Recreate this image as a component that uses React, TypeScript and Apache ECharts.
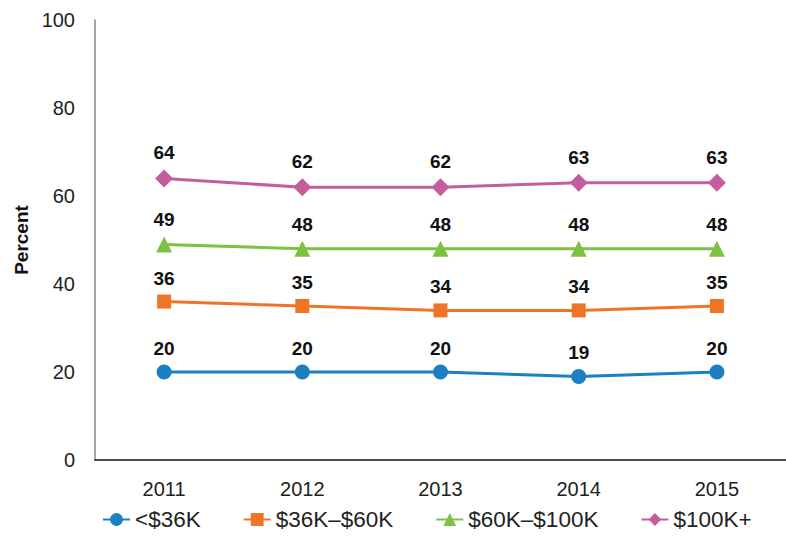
import React, { useEffect, useRef } from "react";
import * as echarts from "echarts";

const years = ["2011", "2012", "2013", "2014", "2015"];
const under36 = [20, 20, 20, 19, 20];
const from36to60 = [36, 35, 34, 34, 35];
const from60to100 = [49, 48, 48, 48, 48];
const over100 = [64, 62, 62, 63, 63];
const seriesNames = ["<$36K", "$36K\u2013$60K", "$60K\u2013$100K", "$100K+"];
const colors = ["#1a80c2", "#f07426", "#7cc142", "#c55c9c"];

const FONT = "'Liberation Sans', Arial, sans-serif";

export default function App() {
  const ref = useRef<HTMLDivElement>(null);
  useEffect(() => {
    if (!ref.current) return;
    const chart = echarts.init(ref.current, undefined, { renderer: "svg" });
    const mk = (name: string, data: number[], color: string, symbol: string, size: number) => ({
      name,
      type: "line",
      data,
      symbol,
      symbolSize: size,
      color,
      lineStyle: { width: 3, color },
      itemStyle: { color },
      label: {
        show: true,
        position: "top",
        distance: 7,
        color: "#111",
        fontFamily: FONT,
        fontWeight: "bold",
        fontSize: 19,
      },
    });
    chart.setOption({
      animation: false,
      textStyle: { fontFamily: FONT },
      grid: { left: 95, right: 0, top: 20, bottom: 78, containLabel: false },
      legend: {
        bottom: 2,
        left: 97,
        itemWidth: 27,
        itemHeight: 16,
        itemGap: 42,
        textStyle: { fontSize: 22.5, color: "#222", fontFamily: FONT },
        data: seriesNames,
      },
      xAxis: {
        type: "category",
        data: years,
        boundaryGap: true,
        axisLine: { show: true, lineStyle: { color: "#111", width: 1.5 } },
        axisTick: { show: false },
        axisLabel: { fontSize: 20, color: "#222", margin: 19, fontFamily: FONT },
      },
      yAxis: {
        type: "value",
        min: 0,
        max: 100,
        interval: 20,
        name: "Percent",
        nameLocation: "middle",
        nameGap: 64,
        nameTextStyle: { fontSize: 19, fontWeight: "bold", color: "#111", fontFamily: FONT },
        axisLine: { show: true, lineStyle: { color: "#888", width: 1.5 } },
        axisTick: { show: false },
        splitLine: { show: false },
        axisLabel: { fontSize: 20, color: "#222", margin: 20, fontFamily: FONT },
      },
      series: [
        mk(seriesNames[0], under36, colors[0], "circle", 15),
        mk(seriesNames[1], from36to60, colors[1], "rect", 14),
        mk(seriesNames[2], from60to100, colors[2], "triangle", 16),
        mk(seriesNames[3], over100, colors[3], "diamond", 18),
      ],
    });
    return () => chart.dispose();
  }, []);
  return <div ref={ref} style={{ width: 786, height: 538, position: "absolute", left: 0, top: 0 }} />;
}
